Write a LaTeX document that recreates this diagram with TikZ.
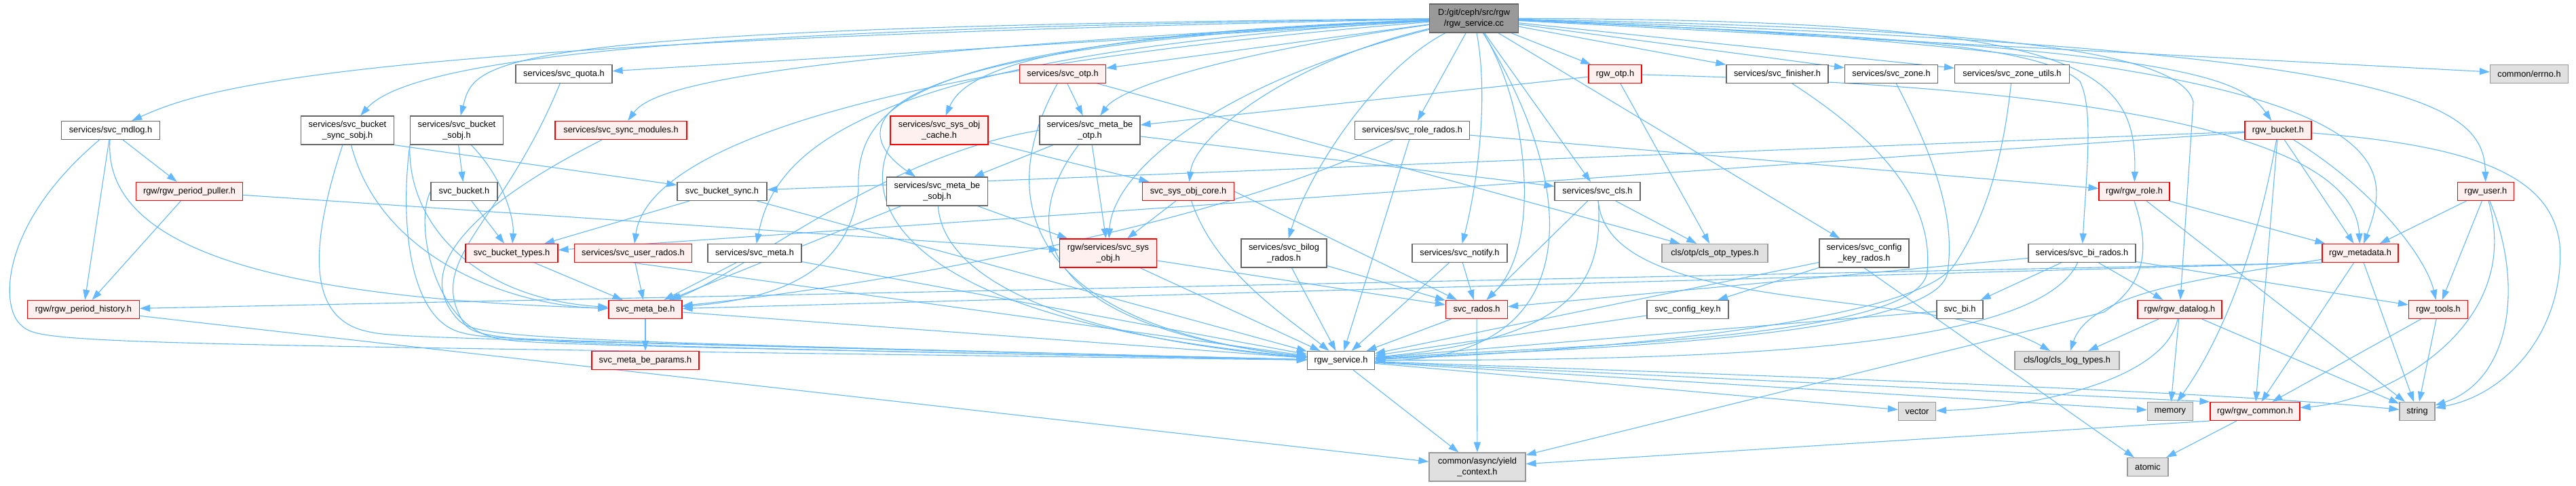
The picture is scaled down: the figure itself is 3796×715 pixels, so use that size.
\documentclass[tikz,border=0pt]{standalone}
\usepackage{fontspec}
\usepackage{xcolor}
\usepackage{tikz}
\usetikzlibrary{arrows.meta,backgrounds}

\newfontfamily\graphfont{Liberation Sans}
\definecolor{edgeblue}{HTML}{63B8FF}
\definecolor{nodegrey}{HTML}{666666}
\definecolor{rootgrey}{HTML}{999999}
\definecolor{extgrey}{HTML}{E0E0E0}
\definecolor{extborder}{HTML}{999999}
\definecolor{truncfill}{HTML}{FFF0F0}

\begin{document}
\begin{tikzpicture}[x=1pt, y=-1pt,
    box/.style={draw=nodegrey, fill=white, line width=1.2pt, minimum height=27pt, inner sep=2pt, align=center, font=\graphfont\fontsize{12.8}{16}\selectfont},
    redbox/.style={box, draw=red, fill=truncfill},
    extbox/.style={box, draw=extborder, fill=extgrey},
    rootbox/.style={box, fill=rootgrey},
    tall/.style={minimum height=42pt},
    arrow/.style={-{Stealth[length=15pt, width=10pt, inset=0pt]}, draw=edgeblue, line width=1.1pt}
]
  \useasboundingbox (0,0) rectangle (3796,715);

  % Root file
  \node[rootbox, tall, minimum width=131pt] (rgw_service_cc) at (2172,27) {D:/git/ceph/src/rgw\\/rgw\_service.cc};

  % Row 1
  \node[box, minimum width=142pt] (svc_quota) at (831,109) {services/svc\_quota.h};
  \node[redbox, minimum width=127pt] (svc_otp) at (1566,109) {services/svc\_otp.h};
  \node[redbox, minimum width=78pt] (rgw_otp) at (2380,109) {rgw\_otp.h};
  \node[box, minimum width=150pt] (svc_finisher) at (2619,109) {services/svc\_finisher.h};
  \node[box, minimum width=137pt] (svc_zone) at (2787,109) {services/svc\_zone.h};
  \node[box, minimum width=169pt] (svc_zone_utils) at (2965,109) {services/svc\_zone\_utils.h};
  \node[extbox, minimum width=115pt] (common_errno) at (3727,109) {common/errno.h};

  % Row 2
  \node[box, minimum width=145pt] (svc_mdlog) at (163,192) {services/svc\_mdlog.h};
  \node[box, tall, minimum width=137pt] (svc_bucket_sync_sobj) at (512,192) {services/svc\_bucket\\\_sync\_sobj.h};
  \node[box, tall, minimum width=137pt] (svc_bucket_sobj) at (673,192) {services/svc\_bucket\\\_sobj.h};
  \node[redbox, minimum width=194pt] (svc_sync_modules) at (915,192) {services/svc\_sync\_modules.h};
  \node[redbox, tall, minimum width=144pt] (svc_sys_obj_cache) at (1384,192) {services/svc\_sys\_obj\\\_cache.h};
  \node[box, tall, minimum width=148pt] (svc_meta_be_otp) at (1606,192) {services/svc\_meta\_be\\\_otp.h};
  \node[box, minimum width=169pt] (svc_role_rados) at (2081,192) {services/svc\_role\_rados.h};
  \node[redbox, minimum width=98pt] (rgw_bucket) at (3357,192) {rgw\_bucket.h};

  % Row 3
  \node[redbox, minimum width=157pt] (rgw_period_puller) at (279,282) {rgw/rgw\_period\_puller.h};
  \node[box, minimum width=98pt] (svc_bucket) at (684,282) {svc\_bucket.h};
  \node[box, minimum width=132pt] (svc_bucket_sync) at (1064,282) {svc\_bucket\_sync.h};
  \node[box, tall, minimum width=149pt] (svc_meta_be_sobj) at (1381,282) {services/svc\_meta\_be\\\_sobj.h};
  \node[redbox, minimum width=135pt] (svc_sys_obj_core) at (1751,282) {svc\_sys\_obj\_core.h};
  \node[box, minimum width=126pt] (svc_cls) at (2354,282) {services/svc\_cls.h};
  \node[redbox, minimum width=104pt] (rgw_role) at (3145,282) {rgw/rgw\_role.h};
  \node[redbox, minimum width=83pt] (rgw_user) at (3663,282) {rgw\_user.h};

  % Row 4
  \node[redbox, minimum width=136pt] (svc_bucket_types) at (754,373) {svc\_bucket\_types.h};
  \node[redbox, minimum width=173pt] (svc_user_rados) at (933,373) {services/svc\_user\_rados.h};
  \node[box, minimum width=138pt] (svc_meta) at (1112,373) {services/svc\_meta.h};
  \node[redbox, tall, minimum width=143pt] (svc_sys_obj) at (1633,373) {rgw/services/svc\_sys\\\_obj.h};
  \node[box, tall, minimum width=126pt] (svc_bilog_rados) at (1892,373) {services/svc\_bilog\\\_rados.h};
  \node[box, minimum width=140pt] (svc_notify) at (2151,373) {services/svc\_notify.h};
  \node[extbox, minimum width=156pt] (cls_otp_types) at (2527,373) {cls/otp/cls\_otp\_types.h};
  \node[box, tall, minimum width=132pt] (svc_config_key_rados) at (2747,373) {services/svc\_config\\\_key\_rados.h};
  \node[box, minimum width=158pt] (svc_bi_rados) at (3068,373) {services/svc\_bi\_rados.h};
  \node[redbox, minimum width=112pt] (rgw_metadata) at (3478,373) {rgw\_metadata.h};

  % Row 5
  \node[redbox, minimum width=165pt] (rgw_period_history) at (123,456) {rgw/rgw\_period\_history.h};
  \node[redbox, minimum width=108pt] (svc_meta_be) at (951,456) {svc\_meta\_be.h};
  \node[redbox, minimum width=91pt] (svc_rados) at (2176,456) {svc\_rados.h};
  \node[box, minimum width=120pt] (svc_config_key) at (2487,456) {svc\_config\_key.h};
  \node[box, minimum width=68pt] (svc_bi) at (2888,456) {svc\_bi.h};
  \node[redbox, minimum width=124pt] (rgw_datalog) at (3212,456) {rgw/rgw\_datalog.h};
  \node[redbox, minimum width=87pt] (rgw_tools) at (3593,456) {rgw\_tools.h};

  % Row 6
  \node[redbox, minimum width=158pt] (svc_meta_be_params) at (951,531) {svc\_meta\_be\_params.h};
  \node[box, minimum width=99pt] (rgw_service_h) at (1976,531) {rgw\_service.h};
  \node[extbox, minimum width=154pt] (cls_log_types) at (3046,531) {cls/log/cls\_log\_types.h};

  % Row 7
  \node[extbox, minimum width=55pt] (std_vector) at (2825,606) {vector};
  \node[extbox, minimum width=67pt] (std_memory) at (3198,606) {memory};
  \node[redbox, minimum width=132pt] (rgw_common) at (3323,606) {rgw/rgw\_common.h};
  \node[extbox, minimum width=52pt] (std_string) at (3562,606) {string};

  % Row 8
  \node[extbox, tall, minimum width=142pt] (yield_context) at (2177,688) {common/async/yield\\\_context.h};
  \node[extbox, minimum width=60pt] (std_atomic) at (3165,688) {atomic};

  \begin{scope}[on background layer]
  % Includes of rgw_service.cc
  \draw[arrow] (rgw_service_cc) .. controls (500,60) and (300,130) .. (svc_mdlog);
  \draw[arrow] (rgw_service_cc) .. controls (1200,40) and (620,70) .. (svc_bucket_sync_sobj);
  \draw[arrow] (rgw_service_cc) .. controls (700,40) and (700,90) .. (svc_bucket_sobj);
  \draw[arrow] (rgw_service_cc) -- (svc_quota);
  \draw[arrow] (rgw_service_cc) .. controls (1100,80) and (960,130) .. (svc_sync_modules);
  \draw[arrow] (rgw_service_cc) .. controls (1150,110) and (950,250) .. (svc_user_rados);
  \draw[arrow] (rgw_service_cc) .. controls (1250,80) and (1140,230) .. (svc_meta);
  \draw[arrow] (rgw_service_cc) .. controls (1350,60) and (1260,150) .. (1265,280) .. controls (1250,400) and (1150,440) .. (svc_meta_be);
  \draw[arrow] (rgw_service_cc) .. controls (1520,50) and (1420,110) .. (svc_sys_obj_cache);
  \draw[arrow] (rgw_service_cc) .. controls (1200,70) and (1260,200) .. (svc_meta_be_sobj);
  \draw[arrow] (rgw_service_cc) -- (svc_otp);
  \draw[arrow] (rgw_service_cc) .. controls (1800,80) and (1650,130) .. (svc_meta_be_otp);
  \draw[arrow] (rgw_service_cc) .. controls (1800,120) and (1640,250) .. (svc_sys_obj);
  \draw[arrow] (rgw_service_cc) .. controls (1900,90) and (1760,200) .. (svc_sys_obj_core);
  \draw[arrow] (rgw_service_cc) .. controls (2030,100) and (1930,250) .. (svc_bilog_rados);
  \draw[arrow] (rgw_service_cc) -- (svc_role_rados);
  \draw[arrow] (rgw_service_cc) .. controls (2195,150) and (2175,280) .. (svc_notify);
  \draw[arrow] (rgw_service_cc) .. controls (2330,280) and (2340,530) .. (rgw_service_h);
  \draw[arrow] (rgw_service_cc) .. controls (2250,150) and (2275,360) .. (svc_rados);
  \draw[arrow] (rgw_service_cc) -- (svc_cls);
  \draw[arrow] (rgw_service_cc) -- (rgw_otp);
  \draw[arrow] (rgw_service_cc) -- (svc_config_key_rados);
  \draw[arrow] (rgw_service_cc) -- (svc_finisher);
  \draw[arrow] (rgw_service_cc) -- (svc_zone);
  \draw[arrow] (rgw_service_cc) -- (svc_zone_utils);
  \draw[arrow] (rgw_service_cc) .. controls (2700,50) and (3000,60) .. (3065,120) .. controls (3085,160) and (3075,250) .. (svc_bi_rados);
  \draw[arrow] (rgw_service_cc) .. controls (3050,30) and (3150,90) .. (rgw_role);
  \draw[arrow] (rgw_service_cc) .. controls (2800,40) and (3210,60) .. (3232,150) -- (rgw_datalog);
  \draw[arrow] (rgw_service_cc) .. controls (3200,70) and (3300,110) .. (rgw_bucket);
  \draw[arrow] (rgw_service_cc) .. controls (3560,80) and (3530,230) .. (rgw_metadata);
  \draw[arrow] (rgw_service_cc) .. controls (3550,70) and (3660,150) .. (rgw_user);
  \draw[arrow] (rgw_service_cc) -- (common_errno);

  % services/svc_mdlog.h and the period files
  \draw[arrow] (svc_mdlog) -- (rgw_period_puller);
  \draw[arrow] (svc_mdlog) -- (rgw_period_history);
  \draw[arrow] (svc_mdlog) .. controls (150,380) and (450,440) .. (svc_meta_be);
  \draw[arrow] (svc_mdlog) .. controls (0,330) and (0,450) .. (30,478) .. controls (60,506) .. (rgw_service_h);
  \draw[arrow] (rgw_period_puller) -- (rgw_period_history);
  \draw[arrow] (rgw_period_puller) -- (svc_sys_obj);
  \draw[arrow] (rgw_period_history) -- (yield_context);

  % bucket services
  \draw[arrow] (svc_bucket_sync_sobj.south east) -- (svc_bucket_sync);
  \draw[arrow] (svc_bucket_sync_sobj) .. controls (560,380) and (750,450) .. (svc_meta_be);
  \draw[arrow] (svc_bucket_sync_sobj) .. controls (450,380) and (460,470) .. (540,488) .. controls (580,497) .. (rgw_service_h);
  \draw[arrow] (svc_bucket_sobj) -- (svc_bucket);
  \draw[arrow] (svc_bucket_sobj) .. controls (740,260) and (758,320) .. (svc_bucket_types);
  \draw[arrow] (svc_bucket_sobj.south west) .. controls (600,330) and (700,440) .. (svc_meta_be);
  \draw[arrow] (svc_bucket_sobj.south west) .. controls (590,320) and (600,470) .. (680,490) .. controls (720,500) .. (rgw_service_h);
  \draw[arrow] (svc_bucket) -- (svc_bucket_types);
  \draw[arrow] (svc_bucket.west) .. controls (610,330) and (640,470) .. (720,495) .. controls (760,507) .. (rgw_service_h);
  \draw[arrow] (svc_quota) .. controls (740,330) and (630,380) .. (680,470) .. controls (700,506) .. (rgw_service_h);
  \draw[arrow] (svc_sync_modules) .. controls (740,280) and (600,380) .. (670,465) .. controls (698,499) .. (rgw_service_h);
  \draw[arrow] (svc_bucket_sync) -- (svc_bucket_types);
  \draw[arrow] (svc_bucket_sync) -- (rgw_service_h);
  \draw[arrow] (svc_bucket_types) -- (svc_meta_be);

  % meta services
  \draw[arrow] (svc_user_rados) -- (svc_meta_be);
  \draw[arrow] (svc_user_rados.south) -- (rgw_service_h);
  \draw[arrow] (svc_meta) -- (svc_meta_be);
  \draw[arrow] (svc_meta) -- (rgw_service_h);
  \draw[arrow] (svc_meta_be) -- (svc_meta_be_params);
  \draw[arrow] (svc_meta_be) -- (rgw_service_h);
  \draw[arrow] (svc_otp) -- (svc_meta_be_otp);
  \draw[arrow] (svc_otp) -- (cls_otp_types);
  \draw[arrow] (svc_otp) .. controls (1460,300) and (1520,480) .. (rgw_service_h);
  \draw[arrow] (svc_meta_be_otp) -- (svc_meta_be_sobj);
  \draw[arrow] (svc_meta_be_otp) -- (svc_cls);
  \draw[arrow] (svc_meta_be_otp) -- (svc_sys_obj);
  \draw[arrow] (svc_meta_be_otp.west) .. controls (1300,230) and (1100,400) .. (svc_meta_be);
  \draw[arrow] (svc_meta_be_otp) .. controls (1500,330) and (1520,480) .. (rgw_service_h);
  \draw[arrow] (svc_meta_be_sobj) -- (svc_sys_obj);
  \draw[arrow] (svc_meta_be_sobj) -- (svc_meta_be);
  \draw[arrow] (svc_meta_be_sobj) .. controls (1390,420) and (1600,500) .. (rgw_service_h);

  % sys_obj and rados
  \draw[arrow] (svc_sys_obj_cache) -- (svc_sys_obj_core);
  \draw[arrow] (svc_sys_obj_cache.south west) .. controls (1270,300) and (1320,470) .. (rgw_service_h);
  \draw[arrow] (svc_sys_obj_core) -- (svc_sys_obj);
  \draw[arrow] (svc_sys_obj_core.east) -- (svc_rados);
  \draw[arrow] (svc_sys_obj_core) .. controls (1790,400) and (1900,470) .. (rgw_service_h);
  \draw[arrow] (svc_sys_obj) -- (svc_rados);
  \draw[arrow] (svc_sys_obj) -- (rgw_service_h);
  \draw[arrow] (svc_bilog_rados) -- (svc_rados);
  \draw[arrow] (svc_bilog_rados) -- (rgw_service_h);
  \draw[arrow] (svc_notify) -- (svc_rados);
  \draw[arrow] (svc_notify) -- (rgw_service_h);
  \draw[arrow] (svc_rados) -- (rgw_service_h);
  \draw[arrow] (svc_rados) -- (yield_context);

  % role, otp, cls
  \draw[arrow] (svc_role_rados) .. controls (1800,330) and (1300,420) .. (svc_meta_be);
  \draw[arrow] (svc_role_rados) -- (rgw_service_h);
  \draw[arrow] (svc_role_rados) -- (rgw_role);
  \draw[arrow] (rgw_otp) -- (svc_meta_be_otp);
  \draw[arrow] (rgw_otp) -- (cls_otp_types);
  \draw[arrow] (rgw_otp) .. controls (3200,130) and (3470,220) .. (rgw_metadata);
  \draw[arrow] (svc_cls) -- (cls_otp_types);
  \draw[arrow] (svc_cls) -- (svc_rados);
  \draw[arrow] (svc_cls) .. controls (2365,430) and (2300,500) .. (rgw_service_h);
  \draw[arrow] (svc_cls) .. controls (2370,470) and (2850,420) .. (cls_log_types);

  % zone, finisher, config key, bi
  \draw[arrow] (svc_finisher) .. controls (2760,200) and (2850,290) .. (2840,400) .. controls (2830,500) and (2300,510) .. (rgw_service_h);
  \draw[arrow] (svc_zone) .. controls (2860,250) and (2880,330) .. (2870,400) .. controls (2860,500) and (2300,515) .. (rgw_service_h);
  \draw[arrow] (svc_zone_utils) .. controls (2950,250) and (2920,330) .. (2880,390) .. controls (2820,480) and (2300,520) .. (rgw_service_h);
  \draw[arrow] (svc_config_key_rados) -- (svc_config_key);
  \draw[arrow] (svc_config_key_rados) -- (rgw_service_h);
  \draw[arrow] (svc_config_key_rados.south) -- (std_atomic);
  \draw[arrow] (svc_config_key) -- (rgw_service_h);
  \draw[arrow] (svc_bi_rados) -- (svc_bi);
  \draw[arrow] (svc_bi_rados) -- (svc_rados);
  \draw[arrow] (svc_bi_rados) -- (rgw_datalog);
  \draw[arrow] (svc_bi_rados) -- (rgw_tools);
  \draw[arrow] (svc_bi_rados) .. controls (3000,520) and (2500,530) .. (rgw_service_h);
  \draw[arrow] (svc_bi) -- (rgw_service_h);

  % rgw headers on the right
  \draw[arrow] (rgw_datalog) -- (cls_log_types);
  \draw[arrow] (rgw_datalog) .. controls (3190,560) and (3000,600) .. (std_vector);
  \draw[arrow] (rgw_datalog) -- (std_memory);
  \draw[arrow] (rgw_datalog) -- (std_string);
  \draw[arrow] (rgw_metadata.south west) -- (rgw_period_history);
  \draw[arrow] (rgw_metadata.south west) -- (svc_meta_be);
  \draw[arrow] (rgw_metadata) .. controls (3250,410) and (3080,430) .. (cls_log_types);
  \draw[arrow] (rgw_metadata) -- (rgw_common);
  \draw[arrow] (rgw_metadata) -- (std_string);
  \draw[arrow] (rgw_bucket) -- (svc_bucket_types);
  \draw[arrow] (rgw_bucket) -- (svc_bucket_sync);
  \draw[arrow] (rgw_bucket) -- (rgw_metadata);
  \draw[arrow] (rgw_bucket) .. controls (3500,280) and (3575,380) .. (rgw_tools);
  \draw[arrow] (rgw_bucket) .. controls (3320,400) and (3260,520) .. (std_memory);
  \draw[arrow] (rgw_bucket) -- (rgw_common);
  \draw[arrow] (rgw_bucket) .. controls (3650,215) and (3760,260) .. (3772,360) .. controls (3780,480) and (3700,580) .. (std_string);
  \draw[arrow] (rgw_role) -- (rgw_metadata);
  \draw[arrow] (rgw_role) -- (std_string);
  \draw[arrow] (rgw_role.south) .. controls (3170,370) and (3160,420) .. (3100,460) -- (yield_context);
  \draw[arrow] (rgw_user) -- (rgw_metadata);
  \draw[arrow] (rgw_user) -- (rgw_tools);
  \draw[arrow] (rgw_user) .. controls (3720,480) and (3520,590) .. (rgw_common);
  \draw[arrow] (rgw_user) .. controls (3720,420) and (3700,560) .. (std_string);
  \draw[arrow] (rgw_tools) -- (rgw_common);
  \draw[arrow] (rgw_tools) -- (std_string);

  % rgw_service.h and rgw_common.h
  \draw[arrow] (rgw_service_h) -- (yield_context);
  \draw[arrow] (rgw_service_h) -- (std_vector);
  \draw[arrow] (rgw_service_h) -- (std_memory);
  \draw[arrow] (rgw_service_h) -- (rgw_common.north west);
  \draw[arrow] (rgw_service_h) .. controls (2800,560) and (3300,580) .. (std_string);
  \draw[arrow] (rgw_common.south west) -- (yield_context);
  \draw[arrow] (rgw_common) -- (std_atomic);
  \end{scope}

\end{tikzpicture}
\end{document}
